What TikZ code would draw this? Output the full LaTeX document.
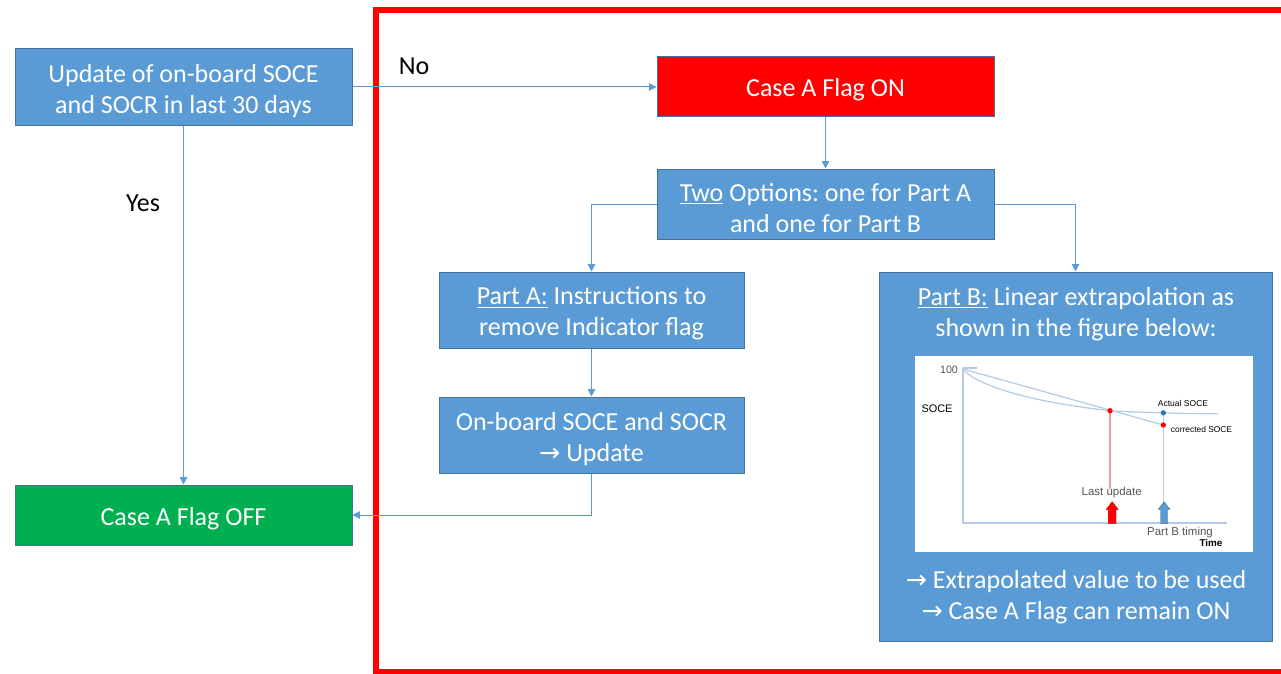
\documentclass[tikz,border=0pt]{standalone}
\usepackage{fontspec}
\setmainfont{Carlito}
\newfontfamily\chartfont{Liberation Sans}
\newfontfamily\symfont{DejaVu Sans}
\usetikzlibrary{arrows.meta}
\frenchspacing

\definecolor{boxblue}{HTML}{5B9BD5}
\definecolor{boxedge}{HTML}{41719C}
\definecolor{flaggreen}{HTML}{00B050}
\definecolor{chartline}{HTML}{B4CBE4}
\definecolor{chartred}{HTML}{F29A9A}
\definecolor{chartgray}{HTML}{555555}
\definecolor{dotblue}{HTML}{2E75B6}

\newcommand{\rarrow}{{\symfont\fontsize{19}{23}\selectfont →}}
\newcommand{\boxfont}{\fontsize{19.5}{23.3}\selectfont}
\newcommand{\topstrut}{\rule{0pt}{19pt}}

\tikzset{
  box/.style={draw=boxedge, line width=0.75pt, fill=boxblue, text=white,
    align=center, inner sep=0pt, font=\boxfont},
  conn/.style={draw=boxblue, line width=0.75pt,
    -{Triangle[length=5.5pt,width=5.5pt]}},
  lbl/.style={font=\boxfont, text=black, inner sep=0pt},
  ctext/.style={inner sep=0pt, text=black},
  cline/.style={draw=chartline, line width=0.9pt},
}

\begin{document}
\begin{tikzpicture}[x=0.75pt, y=-0.75pt]
\useasboundingbox (0,0) rectangle (1281,674);
\clip (0,0) rectangle (1281,674);

% red frame around the flag-ON branch
\draw[red, line width=4.5pt] (376,10) rectangle (1320,672);

% boxes
\node[box, minimum width=252.75pt, minimum height=57.75pt] (upd) at (183.5,87)
  {\topstrut Update of on-board SOCE\\and SOCR in last 30 days};
\node[box, fill=flaggreen, minimum width=252.75pt, minimum height=45pt] (off) at (183.5,515)
  {\topstrut Case A Flag OFF};
\node[box, fill=red, minimum width=252.75pt, minimum height=44.25pt] (on) at (825.5,86.5)
  {\topstrut Case A Flag ON};
\node[box, minimum width=252.75pt, minimum height=52.5pt] (two) at (825.5,204)
  {\topstrut\underline{Two} Options: one for Part A\\and one for Part B};
\node[box, minimum width=228.75pt, minimum height=57pt] (pa) at (591.5,310)
  {\topstrut\underline{Part A:} Instructions to\\remove Indicator flag};
\node[box, minimum width=228.75pt, minimum height=57pt] (ob) at (591.5,435)
  {\topstrut On-board SOCE and SOCR\\\rarrow\ Update};
\node[box, minimum width=294.75pt, minimum height=276.75pt] (pb) at (1075.5,456.5) {};
\node[font=\boxfont, text=white, align=center, inner sep=0pt] (pbtop) at (1076,314)
  {\underline{Part B:} Linear extrapolation as\\shown in the figure below:};
\node[font=\boxfont, text=white, align=center, inner sep=0pt] (pbbot) at (1076,597)
  {\rarrow\ Extrapolated value to be used\\\rarrow\ Case A Flag can remain ON};

% connectors
\draw[conn] (upd.east) -- (upd.east -| on.west);
\node[lbl] (no) at (414,66) {No};
\draw[conn] (upd.south) -- (off.north);
\node[lbl] (yes) at (143,203) {Yes};
\draw[conn] (on.south) -- (two.north);
\draw[conn] (two.west) -| (pa.north);
\draw[conn] (two.east) -| (pb.north);
\draw[conn] (pa.south) -- (ob.north);
\draw[conn] (ob.south) |- (off.east);

% extrapolation chart
\node[fill=white, draw=none, minimum width=253.5pt, minimum height=147pt, inner sep=0pt]
  (chart) at (1084,454) {};
\draw[cline] (963,368) -- (963,523) -- (1227,523);
\draw[cline] (963,368) -- (977,368);
\draw[cline] (963,369) .. controls (975,385) and (1030,402) .. (1110,410.7)
  .. controls (1150,413) and (1190,413.6) .. (1218,413.8);
\draw[cline] (963,369) -- (1163.3,425);
\draw[draw=chartred, line width=0.9pt] (1110,411) -- (1110,489);
\draw[cline] (1163.3,413) -- (1163.3,502);
\fill[red] (1110,410.7) circle[radius=2pt];
\fill[dotblue] (1163.3,412.8) circle[radius=2pt];
\fill[red] (1163.3,425) circle[radius=2pt];
\fill[red, draw=red!80!black, line width=0.3pt]
  (1108.3,523.3) -- (1108.3,509.5) -- (1106,509.5) -- (1112.2,501.7)
  -- (1118.3,509.5) -- (1116,509.5) -- (1116,523.3) -- cycle;
\fill[boxblue, draw=boxedge, line width=0.3pt]
  (1160.5,523.3) -- (1160.5,509.5) -- (1158.2,509.5) -- (1164.1,501.7)
  -- (1170,509.5) -- (1167.7,509.5) -- (1167.7,523.3) -- cycle;

\node[ctext, font=\chartfont\fontsize{8}{9}\selectfont, text=chartgray] (c100) at (949,370) {100};
\node[ctext, font=\chartfont\fontsize{8.2}{9}\selectfont] (csoce) at (937,409) {SOCE};
\node[ctext, font=\chartfont\fontsize{6.4}{7}\selectfont] (cact) at (1183,403) {Actual SOCE};
\node[ctext, font=\chartfont\fontsize{6.3}{7}\selectfont] (ccor) at (1201.5,429) {corrected SOCE};
\node[ctext, font=\chartfont\fontsize{8.6}{9}\selectfont, text=chartgray] (clast) at (1111.7,493) {Last update};
\node[ctext, font=\chartfont\fontsize{8.6}{9}\selectfont, text=chartgray] (cpb) at (1180,533) {Part B timing};
\node[ctext, font=\chartfont\bfseries\fontsize{7.4}{8}\selectfont] (ctime) at (1211,543) {Time};
\end{tikzpicture}
\end{document}
